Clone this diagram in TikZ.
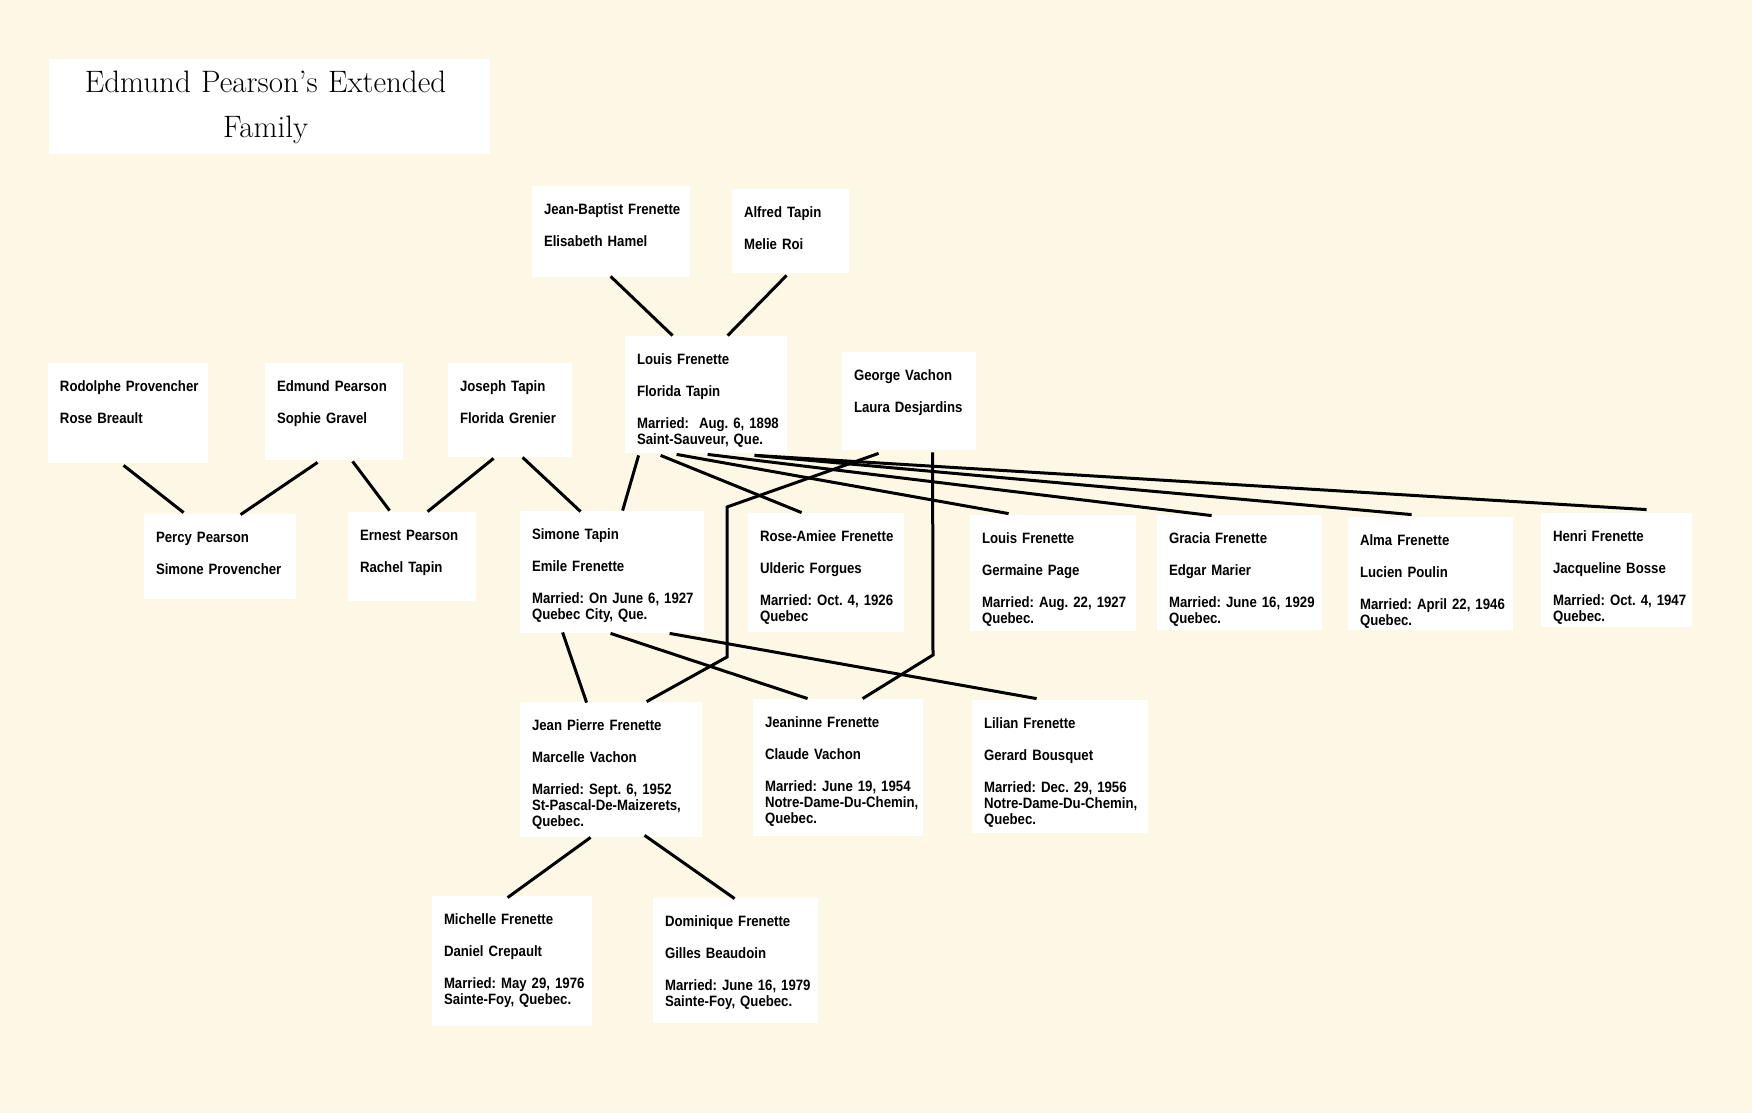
\documentclass[tikz,border=0pt]{standalone}
\usepackage{fontspec}
\newfontfamily\cardfam[FakeStretch=0.88]{Liberation Sans}
\usetikzlibrary{calc,fit}
\definecolor{paper}{RGB}{253,248,229}
\newcommand\famcard[6]{%
  \node[card, fit={(#2,#3) (#4,#5)}] (#1) {};
  \node[cardtext] (#1-txt) at ($(#1.north west)+(12,29)$) {#6};}
\begin{document}
\begin{tikzpicture}[x=0.5pt,y=-0.5pt,
  card/.style={fill=white, inner sep=0pt, draw=none},
  cardtext/.style={anchor=base west, inner sep=0pt, align=left, text width=100pt,
    font=\cardfam\bfseries\fontsize{7.5}{8}\selectfont\frenchspacing},
  link/.style={line width=1.5pt, black}]
\fill[paper] (0,0) rectangle (1752,1113);
\useasboundingbox (0,0) rectangle (1752,1113);

% title
\node[card, fit={(49,59) (490,154)}] (title) {};
\node[anchor=base, inner sep=0pt, align=center, text width=220pt,
  font=\fontsize{15.5}{22.5}\selectfont] (titletext)
  at ($(title.north west)+(217,34)$) {Edmund Pearson's Extended\\Family};

% cards
\famcard{JB}{532}{186}{690}{277}{Jean-Baptist Frenette\\[8pt]Elisabeth Hamel}
\famcard{AT}{732}{189}{849}{273}{Alfred Tapin\\[8pt]Melie Roi}
\famcard{LF}{625}{336}{787}{453}{Louis Frenette\\[8pt]Florida Tapin\\[8pt]Married:\ \ Aug. 6, 1898\\Saint-Sauveur, Que.}
\famcard{GV}{842}{352}{976}{450}{George Vachon\\[8pt]Laura Desjardins}
\famcard{RP}{48}{363}{208}{463}{Rodolphe Provencher\\[8pt]Rose Breault}
\famcard{EP}{265}{363}{403}{460}{Edmund Pearson\\[8pt]Sophie Gravel}
\famcard{JT}{448}{363}{572}{457}{Joseph Tapin\\[8pt]Florida Grenier}
\famcard{PP}{144}{514}{296}{599}{Percy Pearson\\[8pt]Simone Provencher}
\famcard{ER}{348}{512}{476}{601}{Ernest Pearson\\[8pt]Rachel Tapin}
\famcard{ST}{520}{511}{704}{633}{Simone Tapin\\[8pt]Emile Frenette\\[8pt]Married: On June 6, 1927\\Quebec City, Que.}
\famcard{RA}{748}{513}{904}{632}{Rose-Amiee Frenette\\[8pt]Ulderic Forgues\\[8pt]Married: Oct. 4, 1926\\Quebec}
\famcard{LFtwo}{970}{515}{1136}{631}{Louis Frenette\\[8pt]Germaine Page\\[8pt]Married: Aug. 22, 1927\\Quebec.}
\famcard{GF}{1157}{515}{1322}{630}{Gracia Frenette\\[8pt]Edgar Marier\\[8pt]Married: June 16, 1929\\Quebec.}
\famcard{AF}{1348}{517}{1513}{630}{Alma Frenette\\[8pt]Lucien Poulin\\[8pt]Married: April 22, 1946\\Quebec.}
\famcard{HF}{1541}{513}{1692}{627}{Henri Frenette\\[8pt]Jacqueline Bosse\\[8pt]Married: Oct. 4, 1947\\Quebec.}
\famcard{JP}{520}{702}{702}{837}{Jean Pierre Frenette\\[8pt]Marcelle Vachon\\[8pt]Married: Sept. 6, 1952\\St-Pascal-De-Maizerets,\\Quebec.}
\famcard{JN}{753}{699}{923}{836}{Jeaninne Frenette\\[8pt]Claude Vachon\\[8pt]Married: June 19, 1954\\Notre-Dame-Du-Chemin,\\Quebec.}
\famcard{LL}{972}{700}{1148}{833}{Lilian Frenette\\[8pt]Gerard Bousquet\\[8pt]Married: Dec. 29, 1956\\Notre-Dame-Du-Chemin,\\Quebec.}
\famcard{MC}{432}{896}{592}{1026}{Michelle Frenette\\[8pt]Daniel Crepault\\[8pt]Married: May 29, 1976\\Sainte-Foy, Quebec.}
\famcard{DF}{653}{898}{818}{1023}{Dominique Frenette\\[8pt]Gilles Beaudoin\\[8pt]Married: June 16, 1979\\Sainte-Foy, Quebec.}

% connectors
\draw[link] ($(JB.south west)+(79,-1)$) -- ($(LF.north west)+(48,0)$);
\draw[link] ($(AT.south west)+(55,2)$) -- ($(LF.north west)+(103,0)$);
\draw[link] ($(RP.south west)+(76,2)$) -- ($(PP.north west)+(40,-1)$);
\draw[link] ($(EP.south west)+(53,2)$) -- ($(PP.north west)+(97,1)$);
\draw[link] ($(EP.south west)+(88,1)$) -- ($(ER.north west)+(42,-1)$);
\draw[link] ($(JT.south west)+(46,1)$) -- ($(ER.north west)+(80,0)$);
\draw[link] ($(JT.south west)+(75,0)$) -- ($(ST.north west)+(61,1)$);
\draw[link] ($(LF.south west)+(14,2)$) -- ($(ST.north west)+(103,0)$);
\draw[link] ($(LF.south west)+(36,2)$) -- ($(RA.north west)+(54,0)$);
\draw[link] ($(LF.south west)+(52,1)$) -- ($(LFtwo.north west)+(39,-1)$);
\draw[link] ($(LF.south west)+(83,1)$) -- ($(GF.north west)+(55,1)$);
\draw[link] ($(LF.south west)+(130,2)$) -- ($(AF.north west)+(64,-2)$);
\draw[link] ($(LF.south west)+(130,2)$) -- ($(HF.north west)+(106,-3)$);
\draw[link] ($(GV.south west)+(37,3)$) -- (727,507) -- (727,657) -- ($(JP.north west)+(127,0)$);
\draw[link] ($(GV.south west)+(91,2)$) -- (933,655) -- ($(JN.north west)+(110,0)$);
\draw[link] ($(ST.south west)+(43,-1)$) -- ($(JP.north west)+(67,1)$);
\draw[link] ($(ST.south west)+(91,0)$) -- ($(JN.north west)+(55,0)$);
\draw[link] ($(ST.south west)+(150,0)$) -- ($(LL.north west)+(65,-1)$);
\draw[link] ($(JP.south west)+(71,0)$) -- ($(MC.north west)+(76,2)$);
\draw[link] ($(JP.south west)+(125,-2)$) -- ($(DF.north west)+(82,1)$);
\end{tikzpicture}
\end{document}
